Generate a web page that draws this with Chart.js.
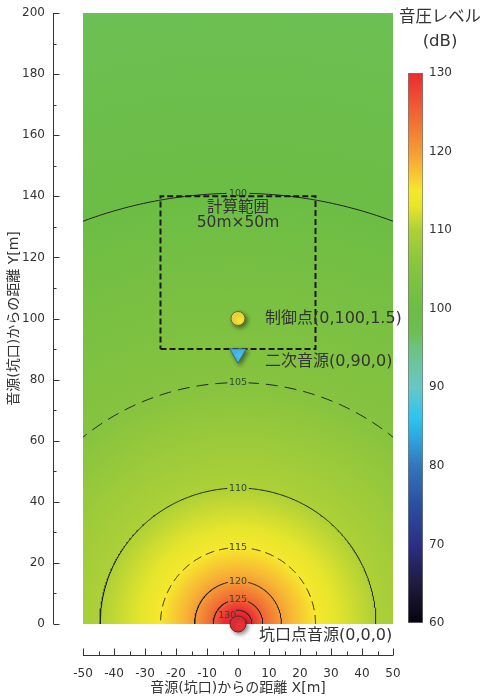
<!DOCTYPE html>
<html>
<head>
<meta charset="utf-8">
<script src="https://cdn.jsdelivr.net/npm/chart.js@4.4.0/dist/chart.umd.min.js"></script>
<style>
body { margin: 0; background: #fff; }
#wrap { position: relative; width: 481px; height: 699px; }
#main { position: absolute; left: 0; top: 0; }
#bar { position: absolute; left: 399px; top: 0; }
</style>
</head>
<body>
<div id="wrap">
<canvas id="main" width="481" height="699"></canvas>
<canvas id="bar" width="82" height="699"></canvas>
</div>
<script>
// contour levels [dB] and their radius from the portal source [m]
const contourLevels = [100, 105, 110, 115, 120, 125, 130];
const contourRadii = [141, 79, 44.5, 25, 14, 8, 4.5];

// calculation area (dashed box)
const areaX = [-25, 25];
const areaY = [90, 140];
const areaText = ['計算範囲', '50m×50m'];

// marked points
const pointNames = ['制御点(0,100,1.5)', '二次音源(0,90,0)', '坑口点音源(0,0,0)'];
const pointX = [0, 0, 0];
const pointY = [100, 88.5, 0];

// colour bar
const barRange = [60, 130];
const cmapLevels = [60, 65, 70, 75, 80, 83, 86, 90, 95, 97, 100, 105, 110, 113, 115, 118, 120, 125, 130];
const cmapColors = ['#050410', '#1f1b3f', '#2b2f87', '#2c4ea0', '#3376bd', '#2f9fd9', '#2bc4f0', '#67c8c6',
  '#6dc37f', '#6cbf52', '#6cbd45', '#86c33f', '#add037', '#e6e52c', '#f6e82c', '#f7b834', '#f59c35', '#ef6334', '#ec2a31'];

Chart.defaults.font.family = '"DejaVu Sans", "Noto Sans CJK JP", sans-serif';
Chart.defaults.color = '#333';

// styles
const contourDash = { 105: [12, 7], 115: [9, 5] };
const contourLabelAngle = { 100: 90, 105: 90, 110: 90, 115: 90, 120: 90, 125: 90, 130: 140 };
const markerStyle = [
  { pointStyle: 'circle', radius: 7, bg: '#f7e33b', border: '#6b6530', rotation: 0 },
  { pointStyle: 'triangle', radius: 9.5, bg: '#4ec3f0', border: '#356b8a', rotation: 180 },
  { pointStyle: 'circle', radius: 8, bg: '#e63139', border: '#7c2020', rotation: 0 }
];
const nameOffset = [[27, 0], [27, 8], [21, 12]];

// log-linear radius for a level, from the contour table
function radiusOf(level) {
  let i = 0;
  while (i < contourLevels.length - 2 && level > contourLevels[i + 1]) i++;
  const l0 = contourLevels[i], l1 = contourLevels[i + 1];
  const r0 = Math.log(contourRadii[i]), r1 = Math.log(contourRadii[i + 1]);
  return Math.exp(r0 + (level - l0) / (l1 - l0) * (r1 - r0));
}

// points along a contour circle, broken where the label sits
function contourPoints(r, labelAngle) {
  const gap = (10 / 3.1) / r * 180 / Math.PI;
  const pts = [];
  let broke = false;
  for (let a = 0; a <= 180; a += 0.5) {
    if (Math.abs(a - labelAngle) < gap) {
      if (!broke) { pts.push({ x: 0, y: null }); broke = true; }
      continue;
    }
    const t = a * Math.PI / 180;
    pts.push({ x: r * Math.cos(t), y: r * Math.sin(t) });
  }
  return pts;
}

const datasets = [];
pointX.forEach((x, i) => {
  const s = markerStyle[i];
  datasets.push({
    data: [{ x: x, y: pointY[i] }],
    pointStyle: s.pointStyle, pointRadius: s.radius, pointRotation: s.rotation,
    backgroundColor: s.bg, borderColor: s.border, borderWidth: 1,
    clip: false, order: 0, shadow: true
  });
});
datasets.push({
  data: [
    { x: areaX[0], y: areaY[0] }, { x: areaX[1], y: areaY[0] },
    { x: areaX[1], y: areaY[1] }, { x: areaX[0], y: areaY[1] }, { x: areaX[0], y: areaY[0] }
  ],
  showLine: true, pointRadius: 0, borderColor: '#1a1a1a', borderWidth: 2,
  borderDash: [6, 3], order: 1
});
contourLevels.forEach((lv, i) => {
  datasets.push({
    data: contourPoints(contourRadii[i], contourLabelAngle[lv]),
    showLine: true, pointRadius: 0, borderColor: '#222', borderWidth: 1,
    borderDash: contourDash[lv] || [], order: 2, spanGaps: false
  });
});

const fieldPlugin = {
  id: 'field',
  beforeDatasetsDraw(chart) {
    const { ctx, chartArea: a, scales: { x, y } } = chart;
    const cx = x.getPixelForValue(0), cy = y.getPixelForValue(0);
    const sx = x.getPixelForValue(1) - cx, sy = cy - y.getPixelForValue(1);
    const R = radiusOf(90);
    ctx.save();
    ctx.beginPath();
    ctx.rect(a.left, a.top, a.right - a.left, a.bottom - a.top);
    ctx.clip();
    ctx.translate(cx, cy);
    ctx.scale(sx, sy);
    const g = ctx.createRadialGradient(0, 0, 0, 0, 0, R);
    g.addColorStop(0, cmapColors[cmapLevels.length - 1]);
    for (let i = cmapLevels.length - 1; i >= 0; i--) {
      if (cmapLevels[i] < 90) break;
      g.addColorStop(Math.min(1, radiusOf(cmapLevels[i]) / R), cmapColors[i]);
    }
    ctx.fillStyle = g;
    ctx.fillRect(-100, -300, 200, 400);
    ctx.restore();

    // contour labels
    ctx.save();
    ctx.font = '9.5px "DejaVu Sans", sans-serif';
    ctx.fillStyle = '#2d4a2a';
    ctx.textAlign = 'center';
    ctx.textBaseline = 'middle';
    contourLevels.forEach((lv, i) => {
      const t = contourLabelAngle[lv] * Math.PI / 180;
      const r = contourRadii[i];
      ctx.fillText(String(lv), x.getPixelForValue(r * Math.cos(t)), y.getPixelForValue(r * Math.sin(t)));
    });
    ctx.restore();
  },
  beforeDatasetDraw(chart, args) {
    if (chart.data.datasets[args.index].shadow) {
      const ctx = chart.ctx;
      ctx.save();
      ctx.shadowColor = 'rgba(0,0,0,0.45)';
      ctx.shadowBlur = 4;
      ctx.shadowOffsetX = 2;
      ctx.shadowOffsetY = 2;
    }
  },
  afterDatasetDraw(chart, args) {
    if (chart.data.datasets[args.index].shadow) chart.ctx.restore();
  },
  afterDatasetsDraw(chart) {
    const { ctx, scales: { x, y } } = chart;
    ctx.save();
    ctx.fillStyle = '#333';
    ctx.textBaseline = 'middle';
    ctx.font = '15.5px "DejaVu Sans", "Noto Sans CJK JP", sans-serif';
    ctx.textAlign = 'center';
    const ax = x.getPixelForValue((areaX[0] + areaX[1]) / 2), ay = y.getPixelForValue(areaY[1]);
    ctx.fillText(areaText[0], ax, ay + 12);
    ctx.fillText(areaText[1], ax, ay + 27);
    ctx.font = '16px "DejaVu Sans", "Noto Sans CJK JP", sans-serif';
    ctx.textAlign = 'left';
    pointNames.forEach((n, i) => {
      ctx.fillText(n, x.getPixelForValue(pointX[i]) + nameOffset[i][0], y.getPixelForValue(pointY[i]) + nameOffset[i][1]);
    });
    ctx.restore();
  },
  afterDraw(chart) {
    // detached axis lines with major and minor ticks
    const { ctx, scales: { x, y } } = chart;
    ctx.save();
    ctx.strokeStyle = '#333';
    ctx.lineWidth = 1;
    ctx.beginPath();
    const ay = Math.round(x.top + 31) + 0.5;
    ctx.moveTo(x.getPixelForValue(x.min), ay);
    ctx.lineTo(x.getPixelForValue(x.max), ay);
    x.ticks.forEach((t, i) => {
      const px = Math.round(x.getPixelForValue(t.value)) + 0.5;
      ctx.moveTo(px, ay); ctx.lineTo(px, ay - 7);
      if (i < x.ticks.length - 1) {
        const m = Math.round(x.getPixelForValue((t.value + x.ticks[i + 1].value) / 2)) + 0.5;
        ctx.moveTo(m, ay); ctx.lineTo(m, ay - 4);
      }
    });
    const ax = Math.round(y.right - 30) + 0.5;
    ctx.moveTo(ax, y.getPixelForValue(y.min));
    ctx.lineTo(ax, y.getPixelForValue(y.max));
    y.ticks.forEach((t, i) => {
      const py = Math.round(y.getPixelForValue(t.value)) + 0.5;
      ctx.moveTo(ax, py); ctx.lineTo(ax + 6, py);
      if (i < y.ticks.length - 1) {
        const m = Math.round(y.getPixelForValue((t.value + y.ticks[i + 1].value) / 2)) + 0.5;
        ctx.moveTo(ax, m); ctx.lineTo(ax + 3, m);
      }
    });
    ctx.stroke();
    ctx.restore();
  }
};

new Chart(document.getElementById('main'), {
  type: 'scatter',
  data: { datasets: datasets },
  plugins: [fieldPlugin],
  options: {
    responsive: false,
    animation: false,
    layout: { padding: { top: 13, right: 88, left: 0, bottom: 0 } },
    plugins: { legend: { display: false }, tooltip: { enabled: false } },
    scales: {
      x: {
        type: 'linear', min: -50, max: 50,
        ticks: { stepSize: 10, padding: 4, font: { size: 12 }, color: '#333' },
        grid: { display: false, drawTicks: true, tickLength: 39 },
        border: { display: false },
        title: { display: true, text: '音源(坑口)からの距離 X[m]', font: { size: 14 }, color: '#333', padding: { top: 0, bottom: 2 } },
        afterFit: s => { s.height = 75; }
      },
      y: {
        type: 'linear', min: 0, max: 200,
        ticks: { stepSize: 20, padding: 4, font: { size: 12 }, color: '#333' },
        grid: { display: false, drawTicks: true, tickLength: 34 },
        border: { display: false },
        title: { display: true, text: '音源(坑口)からの距離 Y[m]', font: { size: 14 }, color: '#333', padding: { top: 6, bottom: 0 } },
        afterFit: s => { s.width = 83; }
      }
    }
  }
});

// colour bar
new Chart(document.getElementById('bar'), {
  type: 'bar',
  data: {
    labels: [''],
    datasets: [{
      data: [barRange],
      yAxisID: 'y',
      backgroundColor: function (c) {
        const ch = c.chart;
        if (!ch.chartArea) return '#888';
        const ys = ch.scales.y;
        const g = ch.ctx.createLinearGradient(0, ys.getPixelForValue(barRange[0]), 0, ys.getPixelForValue(barRange[1]));
        cmapLevels.forEach((l, i) => g.addColorStop((l - barRange[0]) / (barRange[1] - barRange[0]), cmapColors[i]));
        return g;
      },
      borderColor: '#777', borderWidth: 1, borderSkipped: false,
      barPercentage: 1, categoryPercentage: 1
    }]
  },
  options: {
    responsive: false,
    animation: false,
    layout: { padding: { left: 0, top: 0, bottom: 76, right: 0 } },
    plugins: {
      legend: { display: false }, tooltip: { enabled: false },
      title: {
        display: true, text: ['音圧レベル', '(dB)'], color: '#333',
        font: { size: 16.5, weight: 'normal', lineHeight: 1.5 },
        padding: { top: 5, bottom: 18.5 }
      }
    },
    scales: {
      x: { display: false },
      y: {
        position: 'right', min: barRange[0], max: barRange[1],
        ticks: { stepSize: 10, padding: 6, font: { size: 12 }, color: '#333' },
        grid: { display: false, drawTicks: false },
        border: { display: false },
        afterFit: s => { s.width = 58; }
      },
      // empty spacer on the left so the title stays centred on the canvas
      spacer: {
        type: 'linear', position: 'left', display: true,
        ticks: { display: false }, grid: { display: false, drawTicks: false },
        border: { display: false },
        afterFit: s => { s.width = 9; }
      }
    }
  }
});
</script>
</body>
</html>
